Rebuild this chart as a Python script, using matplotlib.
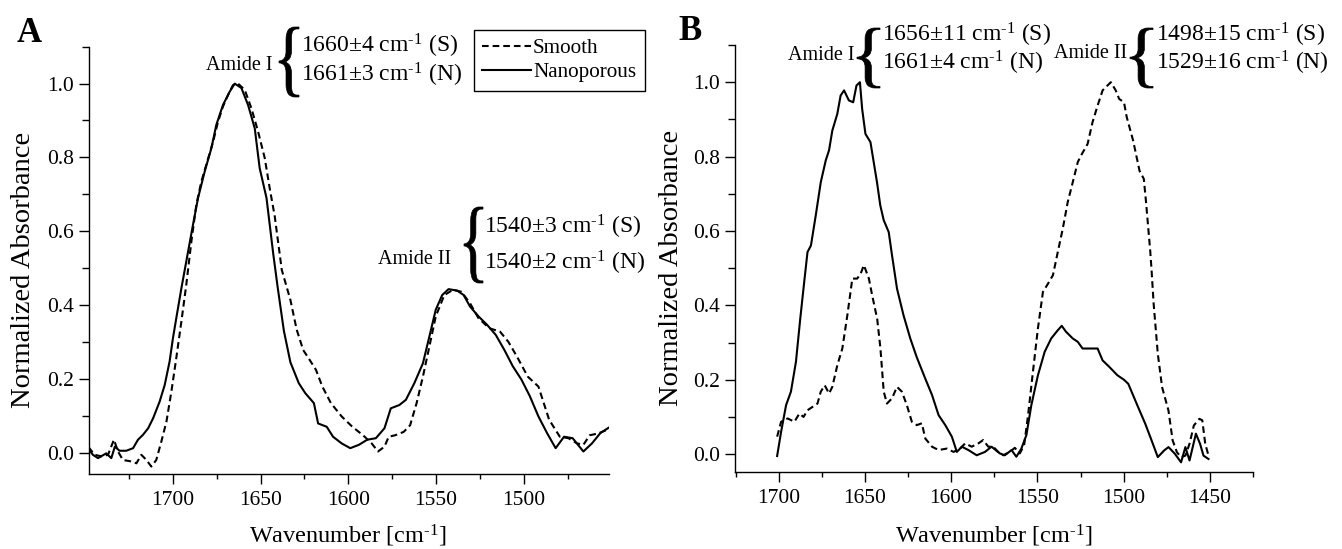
import numpy as np
import matplotlib
matplotlib.use("Agg")
import matplotlib.pyplot as plt
from matplotlib.textpath import TextPath
from matplotlib.font_manager import FontProperties
from matplotlib.patches import PathPatch
from matplotlib.transforms import Affine2D
from matplotlib.lines import Line2D

plt.rcParams['font.family'] = ['Liberation Serif', 'DejaVu Serif']
plt.rcParams['mathtext.fontset'] = 'custom'
plt.rcParams['mathtext.rm'] = 'Liberation Serif'
plt.rcParams['mathtext.it'] = 'Liberation Serif:italic'

# ---------------- data: panel A ----------------
wn_A_nano = [1748, 1745.5, 1742.6, 1737.9, 1735, 1733, 1730.3, 1726.5, 1722.6, 1719.8, 1717, 1714,
             1711.2, 1707.5, 1704.6, 1701.8, 1699.9, 1698, 1695.1, 1692.3, 1688.5, 1685.6, 1681.8,
             1678, 1675.2, 1671.4, 1667.6, 1664.7, 1660.9, 1657.1, 1653.3, 1650.5, 1646.6, 1642.8,
             1640.3, 1636.7, 1633, 1628.2, 1624.5, 1619.6, 1617.2, 1612.3, 1608.7, 1603.8, 1598.9,
             1594, 1589.2, 1584.3, 1579.4, 1575.8, 1570.9, 1567.2, 1562.4, 1557.5, 1553.8, 1550.2,
             1546.5, 1542.9, 1538, 1534.3, 1530.7, 1525.8, 1520.9, 1516, 1511.2, 1506.3, 1501.4,
             1496.6, 1491.7, 1486.8, 1481.9, 1477.1, 1472.2, 1466.1, 1461.2, 1456.4, 1451.5]
abs_A_nano = [0.01, -0.006, -0.015, -0.002, -0.015, 0.016, 0.005, 0.005, 0.012, 0.035, 0.048, 0.066,
              0.093, 0.138, 0.183, 0.247, 0.31, 0.364, 0.445, 0.518, 0.617, 0.69, 0.762,
              0.825, 0.888, 0.942, 0.978, 1.0, 0.988, 0.942, 0.879, 0.771, 0.69, 0.54,
              0.45, 0.33, 0.245, 0.188, 0.161, 0.134, 0.079, 0.07, 0.043, 0.025, 0.012,
              0.021, 0.035, 0.039, 0.066, 0.12, 0.129, 0.143, 0.188, 0.242, 0.315, 0.387,
              0.427, 0.443, 0.439, 0.427, 0.396, 0.369, 0.346, 0.319, 0.279, 0.234, 0.198,
              0.153, 0.098, 0.053, 0.012, 0.043, 0.039, 0.003, 0.025, 0.053, 0.068]

wn_A_smooth = [1748, 1744.5, 1740.7, 1736.9, 1733.5, 1731.2, 1728.4, 1723.6, 1720.7, 1717.9, 1715,
               1712.2, 1709.4, 1706.5, 1703.6, 1700.8, 1698, 1695.1, 1692.3, 1689.4, 1686.6, 1683.7,
               1680.9, 1677, 1674.2, 1671.4, 1668.5, 1665.7, 1662.8, 1659, 1655.2, 1651.4, 1647.6,
               1644.8, 1641.9, 1637.9, 1633, 1629.4, 1625.7, 1622, 1618.4, 1614.8, 1609.9, 1603.8,
               1597.7, 1591.6, 1586.7, 1583.1, 1579.4, 1577, 1573.3, 1568.5, 1564.8, 1561.1, 1557.5,
               1553.8, 1550.2, 1545.3, 1540.4, 1535.6, 1530.7, 1525.8, 1519.7, 1513.6, 1508.8,
               1503.9, 1497.8, 1491.7, 1485.6, 1479.5, 1474.6, 1469.7, 1466.1, 1462.5, 1457.6, 1451.5]
abs_A_smooth = [0.015, -0.006, -0.01, -0.006, 0.035, 0.003, -0.02, -0.024, -0.029, -0.006, -0.02,
                -0.038, -0.02, 0.03, 0.084, 0.165, 0.256, 0.355, 0.455, 0.572, 0.671, 0.735,
                0.78, 0.843, 0.897, 0.938, 0.969, 0.996, 1.0, 0.983, 0.933, 0.87, 0.798,
                0.717, 0.64, 0.495, 0.414, 0.333, 0.278, 0.251, 0.224, 0.179, 0.134, 0.098,
                0.07, 0.047, 0.025, 0.003, 0.016, 0.043, 0.047, 0.056, 0.074, 0.134, 0.206,
                0.288, 0.369, 0.427, 0.441, 0.436, 0.405, 0.364, 0.337, 0.328, 0.3,
                0.26, 0.206, 0.179, 0.089, 0.043, 0.039, 0.025, 0.021, 0.047, 0.052, 0.064]

# ---------------- data: panel B ----------------
wn_B_nano = [1700.9, 1698.6, 1695.7, 1692.9, 1690, 1687.5, 1685.2, 1683.3, 1681.3, 1678.5, 1675.6,
             1672.7, 1670.8, 1668.9, 1666, 1664.1, 1662.1, 1659.3, 1656.8, 1654.9, 1652.9, 1651.6,
             1649.7, 1646.8, 1644.9, 1643, 1641.1, 1639.1, 1636.2, 1634.3, 1631.4, 1627.6, 1623.7,
             1619.9, 1615, 1611.1, 1607.3, 1603.4, 1599.6, 1596.7, 1593.8, 1590, 1585.2, 1580.4,
             1576.6, 1571.8, 1568.9, 1565, 1562.2, 1559.3, 1556.4, 1553.5, 1549.7, 1545.8, 1542,
             1538.2, 1535.9, 1533.4, 1529.5, 1526.6, 1523.8, 1519.9, 1515.1, 1512.2, 1508.4, 1503.6,
             1499.8, 1497.3, 1492.4, 1487.5, 1483.8, 1480.2, 1476.5, 1474, 1470.3, 1466.7, 1464.2,
             1461.8, 1458.1, 1455.7, 1453.7, 1450.8]
abs_B_nano = [-0.005, 0.06, 0.132, 0.168, 0.248, 0.364, 0.463, 0.543, 0.561, 0.642, 0.731,
              0.79, 0.817, 0.87, 0.915, 0.964, 0.978, 0.951, 0.946, 0.991, 1.0, 0.928,
              0.861, 0.839, 0.785, 0.731, 0.669, 0.629, 0.597, 0.535, 0.445, 0.373, 0.311,
              0.26, 0.203, 0.159, 0.105, 0.078, 0.047, 0.006, 0.02, 0.011, -0.003, 0.006,
              0.02, 0.002, -0.003, 0.011, -0.007, 0.015, 0.051, 0.132, 0.212, 0.275, 0.311,
              0.333, 0.345, 0.329, 0.311, 0.302, 0.284, 0.284, 0.284, 0.252, 0.235, 0.212,
              0.2, 0.189, 0.135, 0.082, 0.037, -0.008, 0.01, 0.019, 0.001, -0.022, 0.019,
              -0.017, 0.055, 0.028, -0.004, -0.013]

wn_B_smooth = [1700.9, 1698.6, 1694.8, 1690.9, 1688, 1685.6, 1683.3, 1680.4, 1677.5, 1675.6, 1673.3,
               1670.8, 1668.9, 1666, 1663.1, 1660.2, 1657.3, 1654.5, 1652.5, 1650.6, 1647.7, 1645.8,
               1642.9, 1641, 1639.1, 1637.2, 1634.3, 1631.4, 1628.6, 1625.7, 1622.8, 1619.9, 1617,
               1615, 1611.1, 1607.3, 1602.5, 1598.6, 1594.8, 1591.9, 1588.1, 1584.2, 1581.4, 1578.5,
               1575.6, 1572.7, 1569.8, 1566, 1563.1, 1560.2, 1557.7, 1555.4, 1552.6, 1549.7, 1546.8,
               1543.9, 1541, 1538.2, 1535.3, 1532.4, 1529.5, 1526.6, 1524.7, 1520.9, 1518, 1515.1,
               1512.2, 1509.4, 1507.4, 1504.6, 1502.6, 1499.8, 1498.2, 1494.5, 1490.8, 1488.3, 1487.1,
               1484.6, 1483.8, 1482.6, 1480.2, 1477.7, 1474, 1471.6, 1469.1, 1466.7, 1464.2, 1461.8,
               1459.3, 1456.1, 1454.4, 1452.7, 1450.8]
abs_B_smooth = [0.047, 0.087, 0.096, 0.087, 0.109, 0.1, 0.118, 0.127, 0.136, 0.168, 0.185,
                0.163, 0.181, 0.239, 0.284, 0.373, 0.472, 0.472, 0.485, 0.508, 0.472, 0.427,
                0.364, 0.284, 0.168, 0.136, 0.15, 0.181, 0.168, 0.132, 0.087, 0.078, 0.083,
                0.042, 0.02, 0.011, 0.015, 0.006, 0.015, 0.029, 0.02, 0.029, 0.038, 0.02,
                0.02, 0.006, -0.003, 0.006, 0.017, 0.002, 0.024, 0.105, 0.221, 0.338, 0.436,
                0.458, 0.481, 0.543, 0.606, 0.678, 0.731, 0.785, 0.803, 0.834, 0.893, 0.937,
                0.978, 0.991, 1.0, 0.978, 0.955, 0.946, 0.906, 0.843, 0.762, 0.74, 0.682,
                0.547, 0.494, 0.404, 0.27, 0.18, 0.117, 0.037, 0.005, -0.008, -0.004, 0.028,
                0.077, 0.095, 0.091, 0.028, -0.004]

legend_labels = ["Smooth", "Nanoporous"]
xticks_A = [1700, 1650, 1600, 1550, 1500]
xticks_B = [1700, 1650, 1600, 1550, 1500, 1450]
yticks = [0.0, 0.2, 0.4, 0.6, 0.8, 1.0]
CM = r"cm$^{\text{-1}}$"
ann_A = ["Amide I", "1660\u00b14 " + CM + " (S)", "1661\u00b13 " + CM + " (N)",
         "Amide II", "1540\u00b13 " + CM + " (S)", "1540\u00b12 " + CM + " (N)"]
ann_B = ["Amide I", "1656\u00b111 " + CM + " (S)", "1661\u00b14 " + CM + " (N)",
         "Amide II", "1498\u00b115 " + CM + " (S)", "1529\u00b116 " + CM + " (N)"]
xlabel_text = "Wavenumber [" + CM + "]"
ylabel_text = "Normalized Absorbance"

# ---------------- figure ----------------
W, H = 1342, 549
fig = plt.figure(figsize=(W / 100, H / 100), dpi=100)


def fx(px):
    return px / W


def fy(py):
    return 1 - py / H


def axes_px(x0, y0, x1, y1):
    return fig.add_axes([fx(x0), fy(y1), (x1 - x0) / W, (y1 - y0) / H])


axA = axes_px(88.5, 46.7, 609, 474)
axB = axes_px(734.7, 45, 1253, 472)

DASH = (0, (3.2, 1.9))
LW = 1.5
axA.plot(wn_A_smooth, abs_A_smooth, color='black', lw=LW, linestyle=DASH)
axA.plot(wn_A_nano, abs_A_nano, color='black', lw=LW)
axB.plot(wn_B_smooth, abs_B_smooth, color='black', lw=LW, linestyle=DASH)
axB.plot(wn_B_nano, abs_B_nano, color='black', lw=LW)

axA.set_xlim(1748, 1451.5)
axA.set_ylim(-0.058, 1.1)
axB.set_xlim(1725.5, 1426.7)
axB.set_ylim(-0.048, 1.1)

for ax, xt in ((axA, xticks_A), (axB, xticks_B)):
    ax.spines['top'].set_visible(False)
    ax.spines['right'].set_visible(False)
    ax.spines['left'].set_linewidth(1.0)
    ax.spines['bottom'].set_linewidth(1.0)
    ax.set_xticks(xt)
    ax.set_xticklabels([str(v) for v in xt])
    ax.set_xticks([v + 25 for v in xt] + [xt[-1] - 25], minor=True)
    ax.set_yticks(yticks)
    ax.set_yticklabels(["%.1f" % v for v in yticks])
    ax.set_yticks([0.1, 0.3, 0.5, 0.7, 0.9, 1.1], minor=True)
    ax.tick_params(which='both', direction='out', width=1.0, labelsize=15.5)
    ax.tick_params(which='major', length=7)
    ax.tick_params(axis='x', which='minor', length=3.3)
    ax.tick_params(axis='y', which='minor', length=5)
    ax.tick_params(axis='x', which='major', pad=5.5)
    ax.tick_params(axis='y', which='major', pad=3.5)

# axis labels
fig.text(fx(348), fy(536), xlabel_text, ha='center', va='center', fontsize=17.5)
fig.text(fx(994), fy(536), xlabel_text, ha='center', va='center', fontsize=17.5)
fig.text(fx(24), fy(270), ylabel_text, ha='center', va='center', rotation=90, fontsize=20.5)
fig.text(fx(672), fy(268), ylabel_text, ha='center', va='center', rotation=90, fontsize=20.5)

# panel letters
fig.text(fx(29), fy(34), "A", ha='center', va='center', fontsize=25, fontweight='bold')
fig.text(fx(690), fy(31), "B", ha='center', va='center', fontsize=25, fontweight='bold')


def brace(x0, y0, x1, y1):
    tp = TextPath((0, 0), "{", size=1, prop=FontProperties(family='Liberation Serif'))
    ext = tp.get_extents()
    sx = (fx(x1) - fx(x0)) / ext.width
    sy = (fy(y0) - fy(y1)) / ext.height
    tr = Affine2D().translate(-ext.x0, -ext.y0).scale(sx, sy).translate(fx(x0), fy(y1))
    p = PathPatch(tr.transform_path(tp), facecolor='black', edgecolor='black', lw=0.5,
                  transform=fig.transFigure)
    fig.add_artist(p)


def amide(labels, lab_right, lab_y, brace_box, txt_left, y1, y2, lab_fs=14.5, val_fs=17):
    fig.text(fx(lab_right), fy(lab_y), labels[0], ha='right', va='center', fontsize=lab_fs)
    brace(*brace_box)
    fig.text(fx(txt_left), fy(y1), labels[1], ha='left', va='center', fontsize=val_fs)
    fig.text(fx(txt_left), fy(y2), labels[2], ha='left', va='center', fontsize=val_fs)


amide(ann_A[0:3], 272, 66, (279, 27, 299, 97), 301, 46, 75)
amide(ann_A[3:6], 451, 260, (464, 207, 483, 283), 484, 227, 263)
amide(ann_B[0:3], 854, 55, (857, 28, 880, 88), 882, 35, 63)
amide(ann_B[3:6], 1127, 53, (1130, 28, 1153, 88), 1156, 35, 63)

# legend
handles = [Line2D([], [], color='black', lw=LW, linestyle=DASH),
           Line2D([], [], color='black', lw=LW)]
leg = fig.legend(handles, legend_labels, loc='upper left', bbox_to_anchor=(fx(474), fy(30)),
                 frameon=True, fancybox=False, edgecolor='black', framealpha=1, fontsize=15.2,
                 borderaxespad=0, handlelength=2.3, handletextpad=0.1, labelspacing=0.2,
                 borderpad=0.4)
leg.get_frame().set_linewidth(1.0)

fig.savefig("out.png", dpi=100)
